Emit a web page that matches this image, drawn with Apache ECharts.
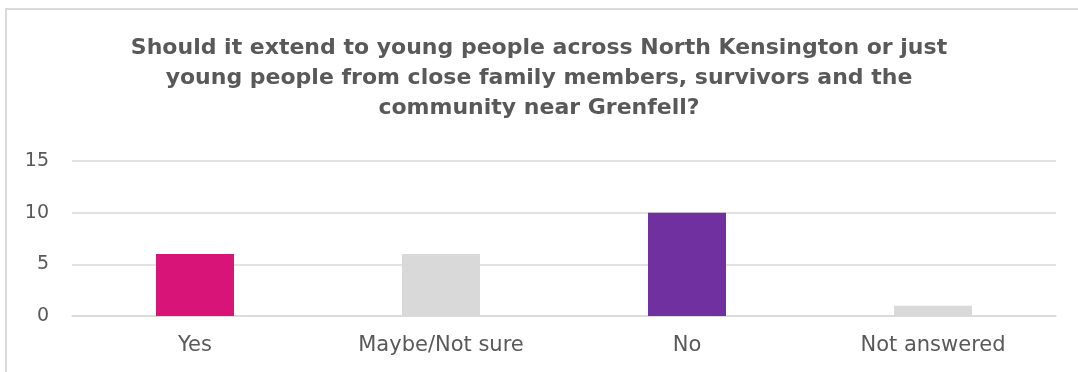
<!DOCTYPE html>
<html><head><meta charset="utf-8">
<script src="https://cdn.jsdelivr.net/npm/echarts@6/dist/echarts.min.js"></script>
<style>html,body{margin:0;padding:0;background:#fff}#c{width:1078px;height:372px}</style>
</head><body><div id="c"></div>
<script>
const categories = ["Yes", "Maybe/Not sure", "No", "Not answered"];
const values = [6, 6, 10, 1];
const barColors = ["#D81478", "#D9D9D9", "#7030A0", "#D9D9D9"];
const yTicks = [0, 5, 10, 15];
const titleLines = [
  "Should it extend to young people across North Kensington or just",
  "young people from close family members, survivors and the",
  "community near Grenfell?"
];

const chart = echarts.init(document.getElementById('c'), null, {renderer: 'canvas'});
chart.setOption({
  animation: false,
  backgroundColor: '#fff',
  graphic: [{
    type: 'rect', shape: {x: 6, y: 9, width: 1200, height: 500},
    style: {fill: 'none', stroke: '#D9D9D9', lineWidth: 2}, silent: true
  }],
  title: {
    text: titleLines.join('\n'),
    left: 534, top: 28,
    textAlign: 'center',
    textStyle: {fontFamily: 'DejaVu Sans', fontWeight: 'bold', fontSize: 22, color: '#595959', lineHeight: 30, align: 'center'}
  },
  grid: {left: 72, right: 22, top: 161, bottom: 56, containLabel: false},
  xAxis: {
    type: 'category', data: categories,
    axisLine: {show: true, lineStyle: {color: '#D9D9D9', width: 1.5}},
    axisTick: {show: false},
    axisLabel: {color: '#595959', fontFamily: 'DejaVu Sans', fontSize: 21, margin: 19}
  },
  yAxis: {
    type: 'value', min: yTicks[0], max: yTicks[yTicks.length - 1], interval: 5,
    axisLine: {show: false}, axisTick: {show: false},
    axisLabel: {color: '#595959', fontFamily: 'DejaVu Sans', fontSize: 19, margin: 23},
    splitLine: {lineStyle: {color: '#D9D9D9', width: 1.5}}
  },
  series: [{
    type: 'bar', barWidth: '31.7%',
    data: values.map((v, i) => ({value: v, itemStyle: {color: barColors[i]}}))
  }]
});
</script></body></html>
